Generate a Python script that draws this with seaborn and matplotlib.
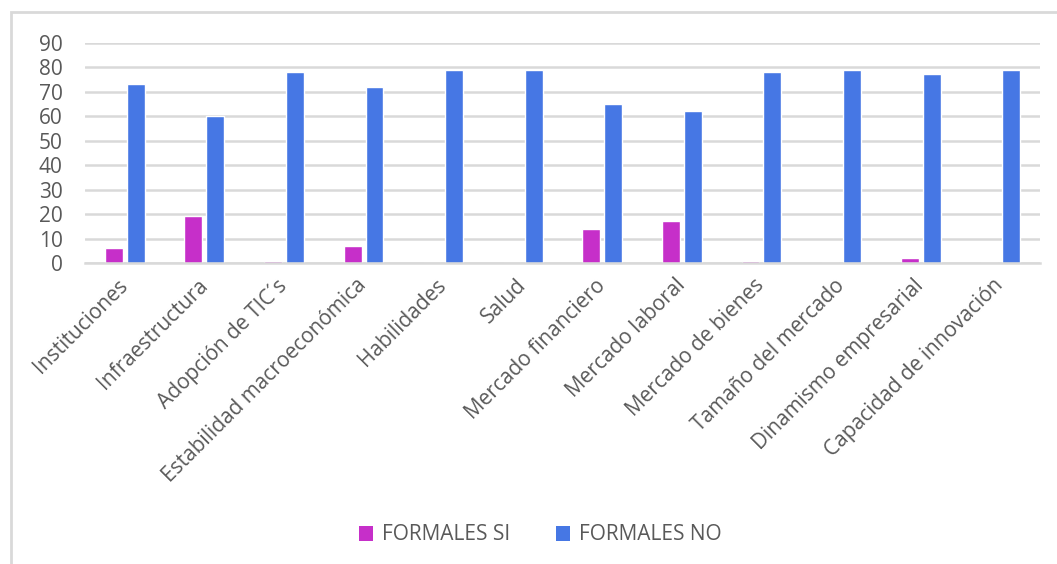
import matplotlib
matplotlib.use("Agg")
import matplotlib.pyplot as plt
from matplotlib.patches import Patch, Rectangle
import seaborn as sns
import pandas as pd

categories = [
    "Instituciones", "Infraestructura", "Adopción de TIC´s",
    "Estabilidad macroeconómica", "Habilidades", "Salud",
    "Mercado financiero", "Mercado laboral", "Mercado de bienes",
    "Tamaño del mercado", "Dinamismo empresarial", "Capacidad de innovación",
]
formales_si = [6, 19, 1, 7, 0, 0, 14, 17, 1, 0, 2, 0]
formales_no = [73, 60, 78, 72, 79, 79, 65, 62, 78, 79, 77, 79]
series_names = ["FORMALES SI", "FORMALES NO"]
y_ticks = [0, 10, 20, 30, 40, 50, 60, 70, 80, 90]

colors = {"FORMALES SI": "#C62FC9", "FORMALES NO": "#4677E4"}
grid_color = "#D9D9D9"
text_color = "#595959"

df = pd.DataFrame({
    "categoria": categories * 2,
    "serie": [series_names[0]] * len(categories) + [series_names[1]] * len(categories),
    "valor": formales_si + formales_no,
})

sns.set_theme(style="white")
plt.rcParams["font.family"] = ["Open Sans", "DejaVu Sans"]

fig = plt.figure(figsize=(10.57, 5.64), dpi=100)
ax = fig.add_axes([85 / 1057, 1 - 263 / 564, 955 / 1057, (263 - 42.6) / 564])

sns.barplot(data=df, x="categoria", y="valor", hue="serie", order=categories,
            hue_order=series_names, palette=colors, width=0.55, gap=0.18,
            saturation=1, ax=ax, legend=False)

ax.set_ylim(0, 90)
ax.set_xlim(-0.5, len(categories) - 0.5)
ax.set_yticks(y_ticks)
ax.set_yticklabels([str(t) for t in y_ticks])
ax.set_xlabel("")
ax.set_ylabel("")
ax.yaxis.grid(True, color=grid_color, linewidth=1.8)
ax.set_axisbelow(True)
for side in ["left", "right", "top"]:
    ax.spines[side].set_visible(False)
ax.spines["bottom"].set_color(grid_color)
ax.spines["bottom"].set_linewidth(1.8)
ax.tick_params(axis="y", length=0, pad=16, labelsize=15, labelcolor=text_color)
ax.tick_params(axis="x", length=0, pad=14, labelsize=15, labelcolor=text_color)
for lbl in ax.get_xticklabels():
    lbl.set_rotation(45)
    lbl.set_ha("right")
    lbl.set_va("center")
    lbl.set_rotation_mode("anchor")

handles = [Patch(facecolor=colors[s], edgecolor="none", label=s) for s in series_names]
fig.legend(handles=handles, loc="center", bbox_to_anchor=(540 / 1057, 1 - 535 / 564),
           ncol=2, frameon=False, fontsize=15, labelcolor=text_color,
           handlelength=0.7, handleheight=0.7, handletextpad=0.4, columnspacing=2.2)

# chart-area frame
fig.patches.append(Rectangle((11 / 1057, -0.1), 1.2, 1 - 12 / 564 + 0.1,
                             transform=fig.transFigure, fill=False,
                             edgecolor=grid_color, linewidth=2))

fig.savefig("out.png", dpi=100, facecolor="white")
